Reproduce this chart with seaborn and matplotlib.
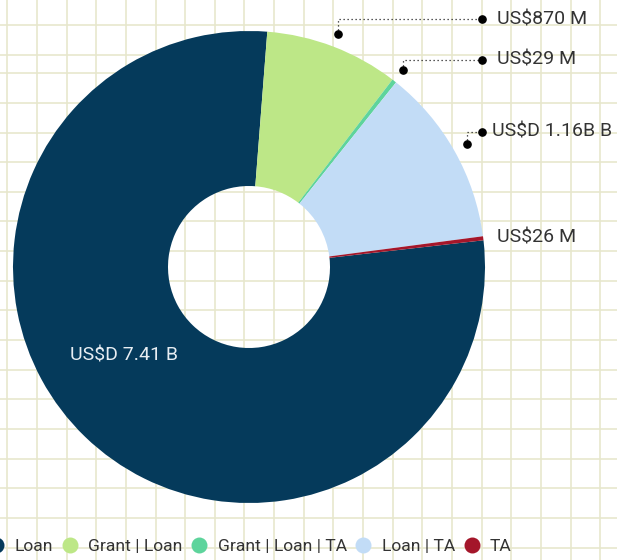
import matplotlib
matplotlib.use("Agg")
import matplotlib.pyplot as plt
import seaborn as sns
import numpy as np
from matplotlib.lines import Line2D

# ---- data ----
categories = ["Loan", "Grant | Loan", "Grant | Loan | TA", "Loan | TA", "TA"]
values_musd = [7410, 870, 29, 1160, 26]
value_labels = ["US$D 7.41 B", "US$870 M", "US$29 M", "US$D 1.16B B", "US$26 M"]
colors = ["#053a5b", "#bde787", "#5ed49c", "#c2dcf6", "#a4162a"]

sns.set_theme(style="white")
plt.rcParams['font.family'] = ['Roboto', 'DejaVu Sans']

W, H = 617, 560
fig = plt.figure(figsize=(W / 100, H / 100), dpi=100)
ax = fig.add_axes([0, 0, 1, 1])

def py(y):  # pixel-from-top -> data y
    return H - y

# background grid
grid_color = '#e7e7cd'
for x in np.arange(7.3, W, 29.65):
    ax.axvline(x, color=grid_color, lw=1.2, zorder=0)
ys = list(np.arange(547.6, 60, -29.65)) + [25, 55]
for y in ys:
    ax.axhline(py(y), color=grid_color, lw=1.2, zorder=0)

# donut
cx, cy, R, r_in = 249, py(267), 236, 81
wedges, _ = ax.pie(values_musd, colors=sns.color_palette(colors), startangle=6.5,
                   counterclock=False, center=(cx, cy), radius=R,
                   wedgeprops=dict(width=R - r_in, linewidth=0))
for w in wedges:
    w.set_zorder(2)

# leader lines
label_y = {1: 19, 2: 60, 3: 132}
label_x = {1: 497, 2: 497, 3: 492}
end_x = 482
txt_color = '#333333'
fs = 14
for i, w in enumerate(wedges):
    mid = np.deg2rad((w.theta1 + w.theta2) / 2)
    if i in label_y:
        dx, dy = cx + 250 * np.cos(mid), cy + 250 * np.sin(mid)
        ly = py(label_y[i])
        ax.plot([dx, dx, end_x], [dy, ly, ly], color='#222222', lw=0.9,
                ls=(0, (1, 2.2)), zorder=3)
        ax.plot([dx, end_x], [dy, ly], 'o', color='black', ms=5.2, zorder=4)
        ax.text(label_x[i], ly, value_labels[i], ha='left', va='center',
                fontsize=fs, color=txt_color, zorder=5)

ax.text(497, py(238), value_labels[4], ha='left', va='center',
        fontsize=fs, color=txt_color, zorder=5)
ax.text(124, py(355), value_labels[0], ha='center', va='center',
        fontsize=fs, color='#e8eef3', zorder=5)

ax.set_xlim(0, W)
ax.set_ylim(0, H)
ax.set_aspect('auto')
ax.axis('off')

handles = [Line2D([0], [0], marker='o', ls='', markersize=11.5,
                  markerfacecolor=c, markeredgewidth=0) for c in colors]
leg = fig.legend(handles, categories, loc='center left',
                 bbox_to_anchor=(-12.5 / W, 1 - 546 / H), ncol=5, frameon=False,
                 fontsize=12.6, handlelength=1.0, handletextpad=0.55,
                 columnspacing=0.45, borderpad=0, borderaxespad=0,
                 labelcolor=txt_color)

fig.savefig("out.png", dpi=100)
